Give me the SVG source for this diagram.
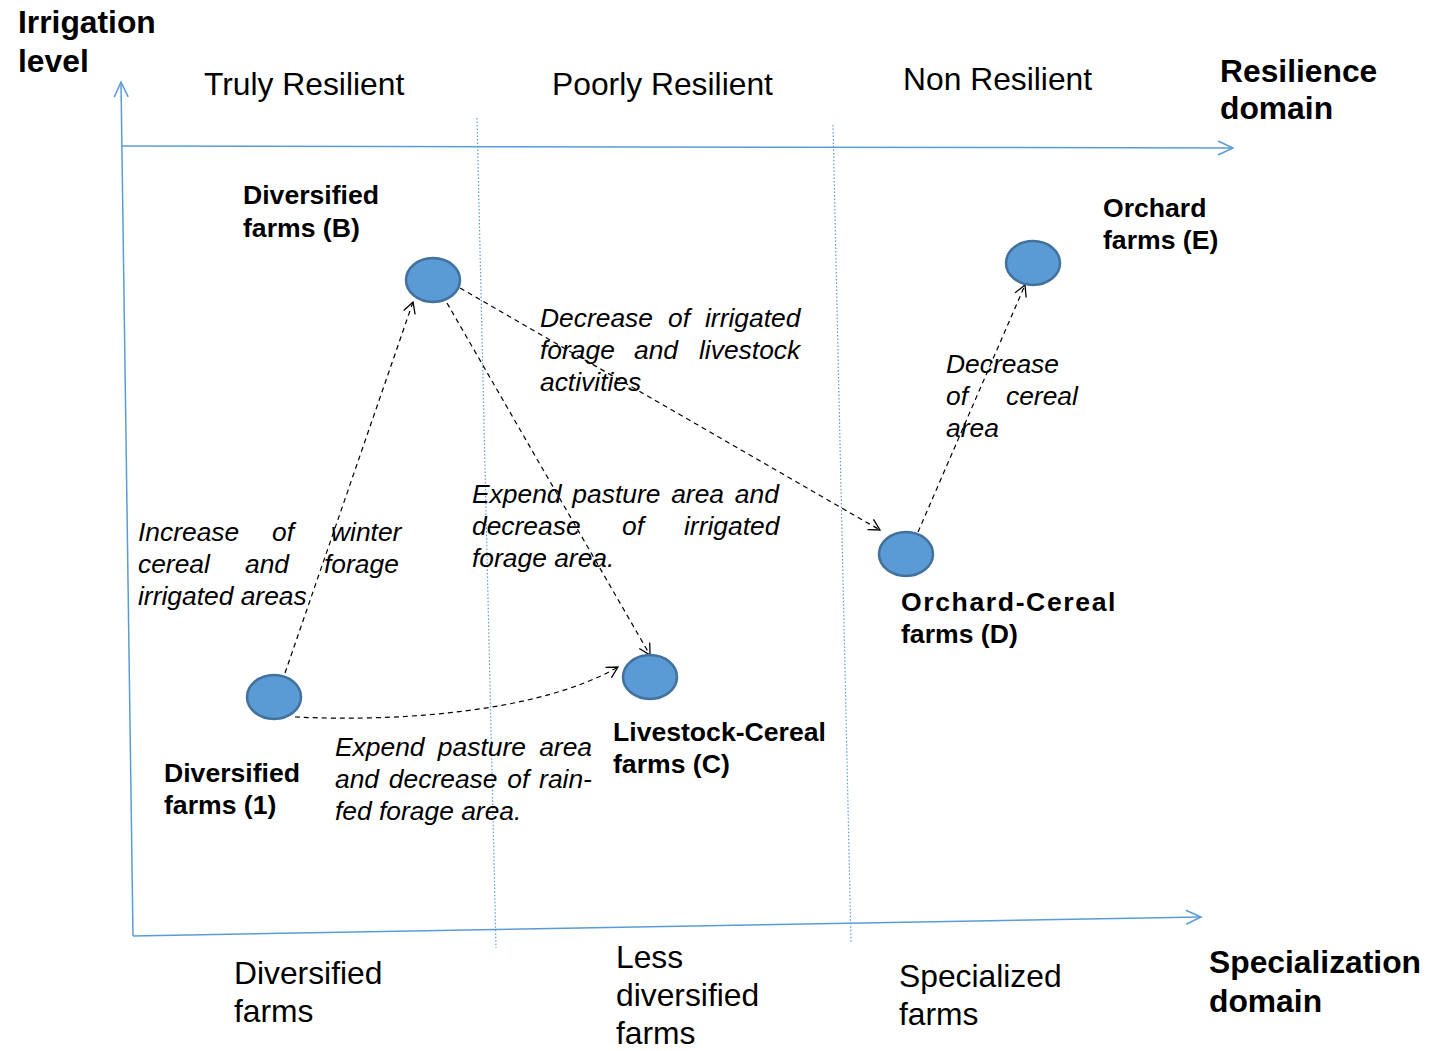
<svg xmlns="http://www.w3.org/2000/svg" width="1435" height="1051" viewBox="0 0 1435 1051">
<style>
text{font-family:"Liberation Sans",Arial,sans-serif;fill:#000}
.h{font-size:31.8px;font-weight:bold}
.r{font-size:31.8px}
.it{font-size:26.4px;font-style:italic}
.b{font-size:26.6px;font-weight:bold}
.ax{stroke:#5B9BD5;stroke-width:1.5;fill:none}
.dv{stroke:#5B9BD5;stroke-width:1.2;stroke-dasharray:1.5,2;fill:none}
.cn{stroke:#000;stroke-width:1.2;stroke-dasharray:5,4;fill:none}
.nd{fill:#5B9BD5;stroke:#41719C;stroke-width:2.5}
</style>
<defs>
<marker id="ah" markerWidth="14" markerHeight="14" refX="12" refY="7" orient="auto" markerUnits="userSpaceOnUse">
<path d="M1,1 L12,7 L1,13" fill="none" stroke="#000" stroke-width="1.3"/>
</marker>
<marker id="aa" markerWidth="20" markerHeight="18" refX="18" refY="9" orient="auto" markerUnits="userSpaceOnUse">
<path d="M3,2 L18,9 L3,16" fill="none" stroke="#5B9BD5" stroke-width="1.5"/>
</marker>
</defs>
<g id="axes">
<path class="ax" d="M133,936 L121,82" marker-end="url(#aa)"/>
<path class="ax" d="M121,146 L1233,148" marker-end="url(#aa)"/>
<path class="ax" d="M133,936 L1201,917" marker-end="url(#aa)"/>
<path class="dv" d="M477,118 L496,948"/>
<path class="dv" d="M833,125 L851,942"/>
</g>
<g id="axis-labels">
<text class="h" x="18" y="33">Irrigation</text>
<text class="h" x="18" y="72">level</text>
<text class="h" x="1220" y="82">Resilience</text>
<text class="h" x="1220" y="119">domain</text>
<text class="h" x="1209" y="973">Specialization</text>
<text class="h" x="1209" y="1012">domain</text>
<text class="r" x="204" y="95">Truly Resilient</text>
<text class="r" x="552" y="95">Poorly Resilient</text>
<text class="r" x="903" y="90">Non Resilient</text>
<text class="r" x="234" y="984">Diversified</text>
<text class="r" x="234" y="1022">farms</text>
<text class="r" x="616" y="968">Less</text>
<text class="r" x="616" y="1006">diversified</text>
<text class="r" x="616" y="1044">farms</text>
<text class="r" x="899" y="987">Specialized</text>
<text class="r" x="899" y="1025">farms</text>
</g>
<g id="connectors">
<path class="cn" d="M285,673 L413,302" marker-end="url(#ah)"/>
<path class="cn" d="M295,717 C400,722 540,712 618,667" marker-end="url(#ah)"/>
<path class="cn" d="M447,303 L650,655" marker-end="url(#ah)"/>
<path class="cn" d="M460,288 L880,530" marker-end="url(#ah)"/>
<path class="cn" d="M918,532 L1025,285" marker-end="url(#ah)"/>
</g>
<g id="node-B">
<ellipse class="nd" cx="433" cy="280" rx="27" ry="22"/>
<text class="b" x="243" y="204">Diversified</text>
<text class="b" x="243" y="237">farms (B)</text>
</g>
<g id="node-E">
<ellipse class="nd" cx="1033" cy="263" rx="27" ry="22"/>
<text class="b" x="1103" y="217">Orchard</text>
<text class="b" x="1103" y="249">farms (E)</text>
</g>
<g id="node-D">
<ellipse class="nd" cx="906" cy="554" rx="27" ry="22"/>
<text class="b" x="901" y="611" style="letter-spacing:1.6px">Orchard-Cereal</text>
<text class="b" x="901" y="643">farms (D)</text>
</g>
<g id="node-C">
<ellipse class="nd" cx="650" cy="677" rx="27" ry="22"/>
<text class="b" x="613" y="741">Livestock-Cereal</text>
<text class="b" x="613" y="773">farms (C)</text>
</g>
<g id="node-1">
<ellipse class="nd" cx="274" cy="697" rx="27" ry="22"/>
<text class="b" x="164" y="782">Diversified</text>
<text class="b" x="164" y="814">farms (1)</text>
</g>
<g id="edge-labels">
<text class="it" y="327"><tspan x="540">Decrease</tspan><tspan x="668">of</tspan><tspan x="705">irrigated</tspan></text>
<text class="it" y="359"><tspan x="540">forage</tspan><tspan x="634">and</tspan><tspan x="699">livestock</tspan></text>
<text class="it" x="540" y="391">activities</text>
<text class="it" y="541"><tspan x="138">Increase</tspan><tspan x="272">of</tspan><tspan x="331">winter</tspan></text>
<text class="it" y="573"><tspan x="138">cereal</tspan><tspan x="245">and</tspan><tspan x="324">forage</tspan></text>
<text class="it" x="138" y="605">irrigated areas</text>
<text class="it" x="472" y="503" style="word-spacing:3.5px">Expend pasture area and</text>
<text class="it" y="535"><tspan x="472">decrease</tspan><tspan x="622">of</tspan><tspan x="684">irrigated</tspan></text>
<text class="it" x="472" y="567">forage area.</text>
<text class="it" x="335" y="756" style="word-spacing:6px">Expend pasture area</text>
<text class="it" x="335" y="788" style="word-spacing:2.5px">and decrease of rain-</text>
<text class="it" x="335" y="820">fed forage area.</text>
<text class="it" x="946" y="373">Decrease</text>
<text class="it" y="405"><tspan x="946">of</tspan><tspan x="1006">cereal</tspan></text>
<text class="it" x="946" y="437">area</text>
</g>
</svg>
